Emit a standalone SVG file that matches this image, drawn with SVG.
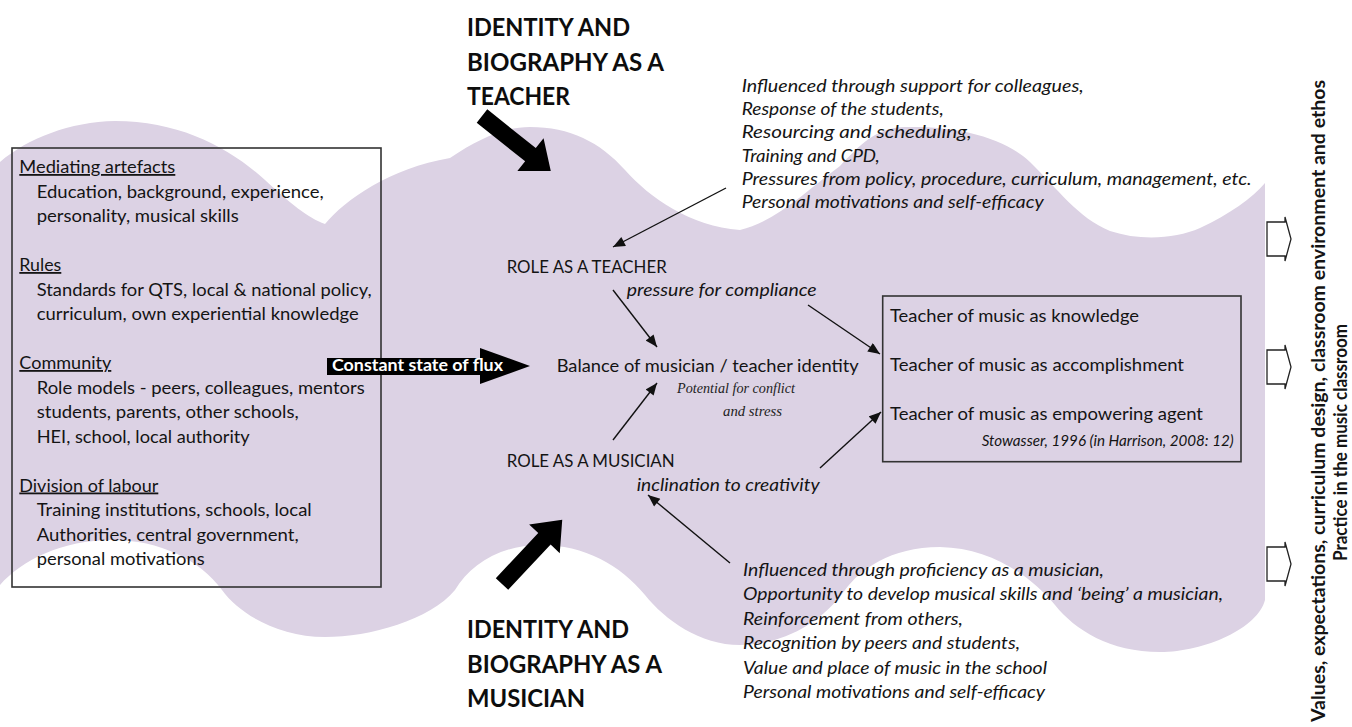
<svg xmlns="http://www.w3.org/2000/svg" width="1352" height="727" viewBox="0 0 1352 727">
<style>
.t{font-family:Lato,"Liberation Sans",sans-serif;font-size:18px;fill:#141414}
.i{font-style:italic}
.b{font-weight:bold}
.h{font-family:Lato,"Liberation Sans",sans-serif;font-size:25px;font-weight:bold;fill:#0d0d0d}
.u{text-decoration:underline}
.hand{font-family:"Liberation Serif",serif;font-style:italic;font-size:14px;fill:#222}
.con{stroke:#111;stroke-width:1.4;fill:none;marker-end:url(#ah)}
.bigarrow{fill:#000}
.out{fill:#fff;stroke:#222;stroke-width:1.3}
</style>
<defs>
<marker id="ah" viewBox="0 0 12 10" refX="12" refY="5" markerWidth="13" markerHeight="10" markerUnits="userSpaceOnUse" orient="auto">
<path d="M0,0 L12,5 L0,10 Z" fill="#111"/>
</marker>
<polygon id="thick" points="0,-8.5 62,-8.5 62,-21 88,0 62,21 62,8.5 0,8.5"/>
<polygon id="blk" points="0,-17 18,-17 18,-22 24,0 18,22 18,17 0,17"/>
</defs>
<rect width="1352" height="727" fill="#fff"/>
<g id="background-wave">
<path fill="#dcd2e4" d="M0,162 C28,138 70,122 115,121 C180,121 230,148 265,180 C290,203 308,218 325,224 C345,200 390,168 450,158 C480,138 505,127 530,127 C570,127 600,142 625,170 C650,198 690,226 740,230 C775,222 805,192 840,166 C860,145 875,128 905,127 C955,126 1002,136 1030,162 C1057,188 1078,218 1110,231 C1140,241 1175,239 1200,228 C1230,214 1252,198 1265,183 L1265,600 C1258,628 1205,652 1160,652 C1110,652 1075,630 1055,605 C1030,575 990,548 940,547 C890,547 860,570 845,590 C820,625 780,645 740,645 C700,645 665,620 645,595 C620,565 585,545 540,545 C500,545 470,565 455,590 C430,620 370,637 325,637 C280,637 240,615 222,590 C200,560 160,540 112,540 C62,540 22,560 0,585 Z"/>
</g>
<g id="connectors">
<line class="con" x1="726" y1="188" x2="613" y2="247"/>
<line class="con" x1="613" y1="290" x2="657" y2="347"/>
<line class="con" x1="808" y1="305" x2="880" y2="354"/>
<line class="con" x1="613" y1="440" x2="657" y2="383"/>
<line class="con" x1="820" y1="468" x2="881" y2="412"/>
<line class="con" x1="730" y1="563" x2="648" y2="495"/>
</g>
<g id="left-box">
<rect x="12" y="148" width="369" height="439" fill="none" stroke="#333" stroke-width="1.6"/>
<text class="t u" x="19.3" y="173" textLength="156" lengthAdjust="spacingAndGlyphs">Mediating artefacts</text>
<text class="t" x="36.7" y="197.5" textLength="287" lengthAdjust="spacingAndGlyphs">Education, background, experience,</text>
<text class="t" x="36.7" y="222" textLength="202" lengthAdjust="spacingAndGlyphs">personality, musical skills</text>
<text class="t u" x="19.3" y="271" textLength="42" lengthAdjust="spacingAndGlyphs">Rules</text>
<text class="t" x="36.7" y="295.5" textLength="335" lengthAdjust="spacingAndGlyphs">Standards for QTS, local &amp; national policy,</text>
<text class="t" x="36.7" y="320" textLength="322" lengthAdjust="spacingAndGlyphs">curriculum, own experiential knowledge</text>
<text class="t u" x="19.3" y="369" textLength="92" lengthAdjust="spacingAndGlyphs">Community</text>
<text class="t" x="36.7" y="393.5" textLength="328" lengthAdjust="spacingAndGlyphs">Role models - peers, colleagues, mentors</text>
<text class="t" x="36.7" y="418" textLength="262" lengthAdjust="spacingAndGlyphs">students, parents, other schools,</text>
<text class="t" x="36.7" y="442.5" textLength="213" lengthAdjust="spacingAndGlyphs">HEI, school, local authority</text>
<text class="t u" x="19.3" y="491.5" textLength="139" lengthAdjust="spacingAndGlyphs">Division of labour</text>
<text class="t" x="36.7" y="516" textLength="275" lengthAdjust="spacingAndGlyphs">Training institutions, schools, local</text>
<text class="t" x="36.7" y="540.5" textLength="262" lengthAdjust="spacingAndGlyphs">Authorities, central government,</text>
<text class="t" x="36.7" y="565" textLength="168" lengthAdjust="spacingAndGlyphs">personal motivations</text>
</g>
<g id="flux-arrow">
<rect x="327" y="358" width="155" height="17" fill="#000"/>
<polygon points="480,348 530,366 480,384" fill="#000"/>
<text class="t b" x="332" y="371" style="fill:#fff;font-size:17px" textLength="171" lengthAdjust="spacingAndGlyphs">Constant state of flux</text>
</g>
<g id="teacher-biography">
<text class="h" x="467" y="36" textLength="163" lengthAdjust="spacingAndGlyphs">IDENTITY AND</text>
<text class="h" x="467" y="70.5" textLength="197" lengthAdjust="spacingAndGlyphs">BIOGRAPHY AS A</text>
<text class="h" x="467" y="105" textLength="103" lengthAdjust="spacingAndGlyphs">TEACHER</text>
<use href="#thick" class="bigarrow" transform="translate(482,116) rotate(38.6)"/>
</g>
<g id="musician-biography">
<text class="h" x="467" y="638" textLength="162" lengthAdjust="spacingAndGlyphs">IDENTITY AND</text>
<text class="h" x="467" y="673" textLength="195" lengthAdjust="spacingAndGlyphs">BIOGRAPHY AS A</text>
<text class="h" x="467" y="707" textLength="118" lengthAdjust="spacingAndGlyphs">MUSICIAN</text>
<use href="#thick" class="bigarrow" transform="translate(502,584) rotate(-46.8)"/>
</g>
<g id="teacher-influences">
<text class="t i" x="741.7" y="92" textLength="342" lengthAdjust="spacingAndGlyphs">Influenced through support for colleagues,</text>
<text class="t i" x="741.7" y="115.2" textLength="202" lengthAdjust="spacingAndGlyphs">Response of the students,</text>
<text class="t i" x="741.7" y="138.4" textLength="230" lengthAdjust="spacingAndGlyphs">Resourcing and scheduling,</text>
<text class="t i" x="741.7" y="161.6" textLength="138" lengthAdjust="spacingAndGlyphs">Training and CPD,</text>
<text class="t i" x="741.7" y="184.8" textLength="510" lengthAdjust="spacingAndGlyphs">Pressures from policy, procedure, curriculum, management, etc.</text>
<text class="t i" x="741.7" y="208" textLength="302" lengthAdjust="spacingAndGlyphs">Personal motivations and self-efficacy</text>
</g>
<g id="role-teacher">
<text class="t" x="506.7" y="273" textLength="160" lengthAdjust="spacingAndGlyphs">ROLE AS A TEACHER</text>
<text class="t i" x="626.7" y="296" textLength="190" lengthAdjust="spacingAndGlyphs">pressure for compliance</text>
</g>
<g id="balance">
<text class="t" x="556.7" y="372" textLength="302" lengthAdjust="spacingAndGlyphs">Balance of musician / teacher identity</text>
<text class="hand" x="677" y="393" textLength="118" lengthAdjust="spacingAndGlyphs">Potential for conflict</text>
<text class="hand" x="723" y="416" textLength="59" lengthAdjust="spacingAndGlyphs">and stress</text>
</g>
<g id="role-musician">
<text class="t" x="506.7" y="466.7" textLength="168" lengthAdjust="spacingAndGlyphs">ROLE AS A MUSICIAN</text>
<text class="t i" x="636.7" y="490.7" textLength="183" lengthAdjust="spacingAndGlyphs">inclination to creativity</text>
</g>
<g id="teacher-of-music">
<rect x="882.7" y="296" width="358.3" height="165.7" fill="none" stroke="#333" stroke-width="1.6"/>
<text class="t" x="890" y="321.7" textLength="249" lengthAdjust="spacingAndGlyphs">Teacher of music as knowledge</text>
<text class="t" x="890" y="371" textLength="294" lengthAdjust="spacingAndGlyphs">Teacher of music as accomplishment</text>
<text class="t" x="890" y="420" textLength="313" lengthAdjust="spacingAndGlyphs">Teacher of music as empowering agent</text>
<text class="t i" x="981.7" y="446" style="font-size:15px" textLength="252" lengthAdjust="spacingAndGlyphs">Stowasser, 1996 (in Harrison, 2008: 12)</text>
</g>
<g id="musician-influences">
<text class="t i" x="743" y="576" textLength="361" lengthAdjust="spacingAndGlyphs">Influenced through proficiency as a musician,</text>
<text class="t i" x="743" y="600.4" textLength="480" lengthAdjust="spacingAndGlyphs">Opportunity to develop musical skills and ‘being’ a musician,</text>
<text class="t i" x="743" y="624.8" textLength="220" lengthAdjust="spacingAndGlyphs">Reinforcement from others,</text>
<text class="t i" x="743" y="649.2" textLength="277" lengthAdjust="spacingAndGlyphs">Recognition by peers and students,</text>
<text class="t i" x="743" y="673.6" textLength="304" lengthAdjust="spacingAndGlyphs">Value and place of music in the school</text>
<text class="t i" x="743" y="698" textLength="302" lengthAdjust="spacingAndGlyphs">Personal motivations and self-efficacy</text>
</g>
<g id="output-arrows">
<use href="#blk" class="out" transform="translate(1267,239)"/>
<use href="#blk" class="out" transform="translate(1267,367)"/>
<use href="#blk" class="out" transform="translate(1267,564)"/>
</g>
<g id="practice">
<text class="t b" transform="translate(1325,722) rotate(-90)" textLength="642" lengthAdjust="spacingAndGlyphs">Values, expectations, curriculum design, classroom environment and ethos</text>
<text class="t b" transform="translate(1347,561) rotate(-90)" textLength="237" lengthAdjust="spacingAndGlyphs">Practice in the music classroom</text>
</g>
</svg>
